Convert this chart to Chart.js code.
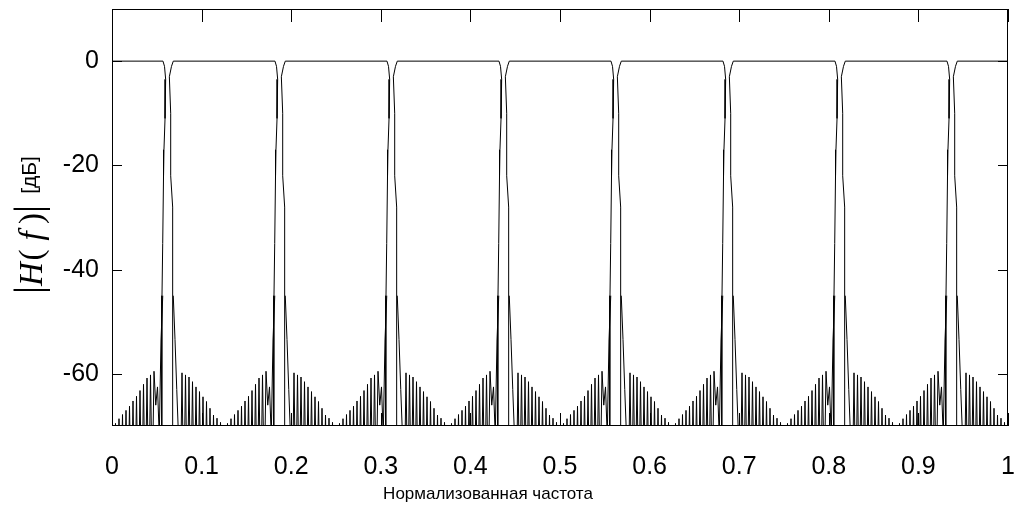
<!DOCTYPE html>
<html>
<head>
<meta charset="utf-8">
<script src="https://cdn.jsdelivr.net/npm/chart.js@4.4.1/dist/chart.umd.min.js"></script>
<style>
  html, body { margin: 0; padding: 0; background: #fff; }
</style>
</head>
<body>
<canvas id="combChart" width="1021" height="509"></canvas>
<script>
// tick labels
const xTicks = [0, 0.1, 0.2, 0.3, 0.4, 0.5, 0.6, 0.7, 0.8, 0.9, 1];
const yTicks = [0, -20, -40, -60];

// notch centres (normalised frequency)
const notchCenters = [0.0625, 0.1875, 0.3125, 0.4375, 0.5625, 0.6875, 0.8125, 0.9375];

// one notch of the bandstop curve: offset from the centre and level in dB
const notchOffsets = [-0.0056, -0.0039, -0.0026, -0.0033, -0.0045, -0.005, -0.0059, -0.0067, -0.007,
                      0.0052, 0.0052, 0.003, 0.003, 0.0015, 0.0039, 0.0059];
const notchLevels = [0, -1, -3.5, -11, -17, -22, -35, -45, -85,
                     -85, -28, -22, -10, -3, -1, 0];

// stopband of the complementary curve, one period (64 bins of 1/512), repeats every 1/8
const binWidth = 1 / 512;
const periodLevels = [
  -71, -85, -69.5, -85, -68.6, -85, -67.8, -85, -67, -85,
  -66.2, -85, -65.2, -85, -64.3, -85, -63.2, -85, -62, -85,
  -60.8, -85, -60.2, -82, -59.5, -66, -62.5, -72, -53.5, -45,
  null, null, null, null, null, -45, -53.4, -63, -72, -85,
  -59.8, -85, -60.2, -85, -60.6, -85, -61.5, -85, -62.5, -85,
  -63.4, -85, -64.4, -85, -65.3, -85, -66.6, -85, -67.9, -85,
  -68.5, -85, -69.3, -85
];

// build point lists
const notchPoints = [{ x: 0, y: 0 }];
notchCenters.forEach((c) => {
  notchOffsets.forEach((d, i) => {
    notchPoints.push({ x: c + d, y: notchLevels[i] });
  });
});
notchPoints.push({ x: 1, y: 0 });

const ripplePoints = [];
for (let k = 0; k < notchCenters.length; k++) {
  periodLevels.forEach((v, j) => {
    ripplePoints.push({ x: (k * periodLevels.length + j) * binWidth, y: v });
  });
}
ripplePoints.push({ x: 1, y: periodLevels[0] });

// box, inward ticks and labels like the matlab figure
const framePlugin = {
  id: "frame",
  afterDraw(chart) {
    const ctx = chart.ctx;
    const a = chart.chartArea;
    const xs = chart.scales.x;
    const ys = chart.scales.y;
    ctx.save();
    ctx.strokeStyle = "#000";
    ctx.lineWidth = 1;
    ctx.strokeRect(a.left + 0.5, a.top + 0.5, a.right - a.left - 1, a.bottom - a.top - 1);
    ctx.beginPath();
    xTicks.forEach((v) => {
      const px = Math.round(xs.getPixelForValue(v)) + 0.5;
      ctx.moveTo(px, a.bottom);
      ctx.lineTo(px, a.bottom - 13);
      ctx.moveTo(px, a.top);
      ctx.lineTo(px, a.top + 13);
    });
    yTicks.forEach((v) => {
      const py = Math.round(ys.getPixelForValue(v)) + 0.5;
      ctx.moveTo(a.left, py);
      ctx.lineTo(a.left + 10, py);
      ctx.moveTo(a.right, py);
      ctx.lineTo(a.right - 10, py);
    });
    ctx.stroke();

    ctx.fillStyle = "#000";
    const piece = (text, x, y, font) => {
      ctx.save();
      ctx.translate(x, y);
      ctx.rotate(-Math.PI / 2);
      ctx.font = font;
      ctx.textAlign = "center";
      ctx.textBaseline = "alphabetic";
      ctx.fillText(text, 0, 0);
      ctx.restore();
    };
    piece("|", 41, 290, "40px 'Liberation Serif'");
    piece("H", 41.7, 274, "italic 33px 'Liberation Serif'");
    piece("(", 41.7, 255, "33px 'Liberation Serif'");
    piece("f", 41.7, 236, "italic 33px 'Liberation Serif'");
    piece(")", 41.7, 218.5, "33px 'Liberation Serif'");
    piece("|", 41, 209, "40px 'Liberation Serif'");
    piece("[дБ]", 36.3, 175, "21px 'Liberation Sans'");

    ctx.font = "17px 'Liberation Sans'";
    ctx.textAlign = "center";
    ctx.textBaseline = "middle";
    ctx.fillText("Нормализованная частота", 488, 494);
    ctx.restore();
  },
};

new Chart(document.getElementById("combChart"), {
  type: "line",
  data: {
    datasets: [
      {
        label: "notch",
        data: notchPoints,
        borderColor: "#000",
        borderWidth: 1,
        pointRadius: 0,
        tension: 0,
      },
      {
        label: "ripple",
        data: ripplePoints,
        borderColor: "#000",
        borderWidth: 1,
        pointRadius: 0,
        tension: 0,
        spanGaps: false,
      },
    ],
  },
  options: {
    responsive: false,
    animation: false,
    devicePixelRatio: 1,
    layout: { padding: { top: 9, right: 13, left: 0, bottom: 0 } },
    plugins: { legend: { display: false }, tooltip: { enabled: false } },
    scales: {
      x: {
        type: "linear",
        min: 0,
        max: 1,
        afterBuildTicks: (s) => { s.ticks = xTicks.map((v) => ({ value: v })); },
        afterFit: (s) => {
          s.height = 83;
          s.paddingLeft = 0;
          s.paddingRight = 0;
        },
        grid: { display: false },
        border: { display: false },
        ticks: {
          color: "#000",
          padding: 18,
          maxRotation: 0,
          font: { family: "'Liberation Sans', Arial", size: 25 },
          callback: (v) => String(v),
        },
      },
      y: {
        type: "linear",
        min: -70,
        max: 10,
        afterBuildTicks: (s) => { s.ticks = yTicks.map((v) => ({ value: v })); },
        afterFit: (s) => {
          s.width = 112;
          s.paddingTop = 0;
          s.paddingBottom = 0;
        },
        grid: { display: false },
        border: { display: false },
        ticks: {
          color: "#000",
          padding: 5,
          font: { family: "'Liberation Sans', Arial", size: 25 },
          callback: (v) => String(v),
        },
      },
    },
  },
  plugins: [framePlugin],
});
</script>
</body>
</html>
